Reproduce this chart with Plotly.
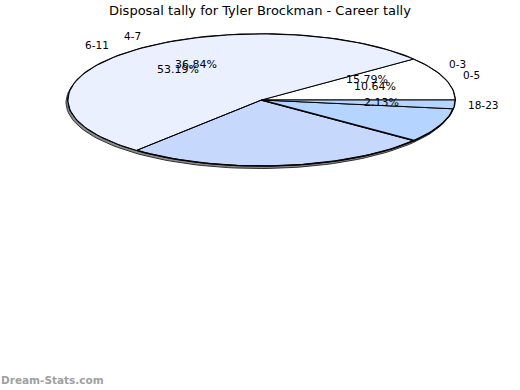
import numpy as np
import plotly.graph_objects as go

title_text = "Disposal tally for Tyler Brockman - Career tally"
watermark = "Dream-Stats.com"

# Pie drawn underneath (per-19 tally)
under_labels = ["0-3", "4-7", "", ""]
under_values = [15.79, 36.84, 36.84, 10.53]
under_colors = ["#ffffff", "#eaf0fe", "#c6d8fc", "#b5d4ff"]

# Pie drawn on top (per-47 tally)
top_labels = ["0-5", "6-11", "", "18-23"]
top_values = [10.64, 53.19, 34.04, 2.13]
top_colors = ["#ffffff", "#eaf0fe", None, "#b5d4ff"]

# geometry / style (axis units = page pixels)
W, H = 520, 390
CX, CY, RX, RY = 261.5, 100.0, 193.5, 66.0
FONT = "DejaVu Sans"

fig = go.Figure()


def ellipse_pts(a0, a1, cx=CX, cy=CY, rx=RX, ry=RY):
    n = max(2, int(abs(a1 - a0) / 2) + 2)
    t = np.radians(np.linspace(a0, a1, n))
    return cx + rx * np.cos(t), cy - ry * np.sin(t)


# 3D rim / shadow
sx, sy = ellipse_pts(0, 360, CX - 2, CY + 2.5)
fig.add_trace(go.Scatter(x=sx, y=sy, mode="lines", fill="toself",
                         fillcolor="#8a8a8a", line=dict(color="#303030", width=1),
                         hoverinfo="skip", showlegend=False))


def draw_pie(values, colors, labels, edge_width):
    total = sum(values)
    start = 0.0
    mids = []
    for v, c, lab in zip(values, colors, labels):
        span = 360.0 * v / total
        ax, ay = ellipse_pts(start, start + span)
        xs = np.concatenate([[CX], ax, [CX]])
        ys = np.concatenate([[CY], ay, [CY]])
        fig.add_trace(go.Scatter(
            x=xs, y=ys, mode="lines",
            fill="toself" if c else "none",
            fillcolor=c if c else "rgba(0,0,0,0)",
            line=dict(color="#000000", width=edge_width),
            hoverinfo="skip", showlegend=False))
        mids.append((start + span / 2, v, lab))
        start += span
    return mids


under_mids = draw_pie(under_values, under_colors, under_labels, 1.6)
top_mids = draw_pie(top_values, top_colors, top_labels, 1)

for mid, v, lab in under_mids + top_mids:
    if not lab:
        continue
    t = np.radians(mid)
    c, s = np.cos(t), np.sin(t)
    fig.add_annotation(x=CX + 0.62 * RX * c, y=CY - 0.64 * RY * s,
                       xref="x", yref="y", text=f"{v:.2f}%", showarrow=False,
                       font=dict(family=FONT, size=11, color="#000000"),
                       xanchor="center", yanchor="middle")
    left = c < 0
    fig.add_annotation(x=CX + (1.12 if left else 1.15) * RX * c, y=CY - 1.15 * RY * s,
                       xref="x", yref="y", text=lab, showarrow=False,
                       font=dict(family=FONT, size=10.5, color="#000000"),
                       xanchor="right" if left else "center", yanchor="middle")

fig.add_annotation(x=260, y=10, xref="x", yref="y",
                   text=title_text, showarrow=False,
                   font=dict(family=FONT, size=13, color="#000000"),
                   xanchor="center", yanchor="middle")
fig.add_annotation(x=0, y=380, xref="x", yref="y",
                   text=watermark, showarrow=False,
                   font=dict(family=FONT, size=10.5, color="#a0a0a0", weight="bold"),
                   xanchor="left", yanchor="middle", xshift=-1)

fig.update_layout(
    width=W, height=H,
    margin=dict(l=0, r=0, t=0, b=0),
    paper_bgcolor="#ffffff", plot_bgcolor="#ffffff",
    xaxis=dict(range=[0, W], visible=False, fixedrange=True),
    yaxis=dict(range=[H, 0], visible=False, fixedrange=True),
    showlegend=False,
    modebar=dict(bgcolor="rgba(0,0,0,0)", color="rgba(0,0,0,0)",
                 activecolor="rgba(0,0,0,0)"),
)

fig.write_html("out.html", config={"displayModeBar": False},
               post_script="document.body.style.margin='0';")
